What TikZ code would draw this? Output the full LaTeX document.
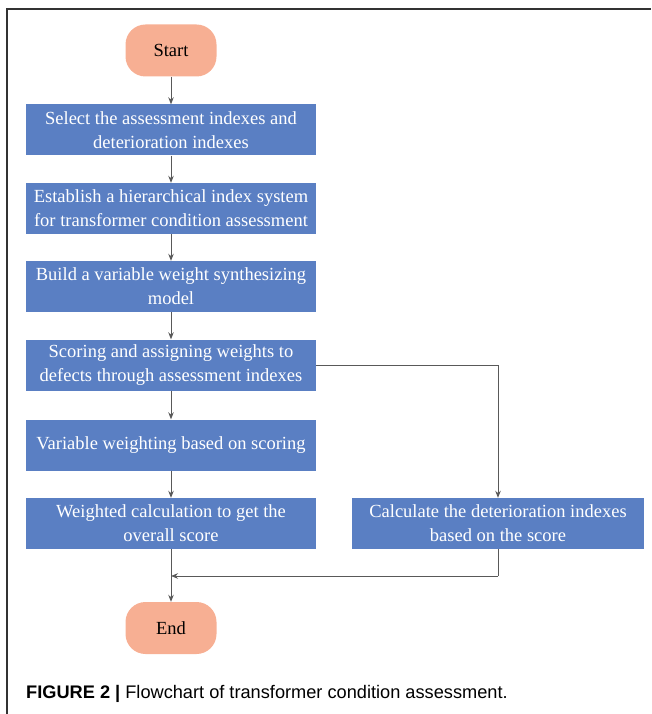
\documentclass[tikz,border=0pt]{standalone}
\usepackage{fontspec}
\setmainfont{Liberation Serif}
\newfontfamily\capfont{Liberation Sans}
\usetikzlibrary{arrows.meta}
\definecolor{boxblue}{HTML}{5A7FC3}
\definecolor{termcol}{HTML}{F7AF93}
\definecolor{linegray}{HTML}{595959}
\begin{document}
\begin{tikzpicture}[x=1pt,y=-1pt,
  stepbox/.style={fill=boxblue,draw=none,text=white,minimum width=290pt,minimum height=51pt,
    align=center,inner sep=2pt,font=\fontsize{18.5}{24}\selectfont},
  term/.style={fill=termcol,draw=none,rounded corners=20pt,minimum width=91pt,minimum height=52pt,
    font=\fontsize{18.5}{20}\selectfont},
  conn/.style={draw=linegray,line width=0.9pt,-{Stealth[length=7pt,width=5.5pt]}},
  line/.style={draw=linegray,line width=0.9pt}]
\useasboundingbox (0,0) rectangle (651,714);
\draw[line width=1.2pt,draw=black!80] (7,714) -- (7,9) -- (651,9);
\node[term] (start) at (171,50.5) {Start};
\node[stepbox] (b1) at (171,130) {Select the assessment indexes and\\deterioration indexes};
\node[stepbox] (b2) at (171,208.5) {Establish a hierarchical index system\\for transformer condition assessment};
\node[stepbox] (b3) at (171,286.5) {Build a variable weight synthesizing\\model};
\node[stepbox] (b4) at (171,365) {Scoring and assigning weights to\\defects through assessment indexes};
\node[stepbox] (b5) at (171,445) {Variable weighting based on scoring};
\node[stepbox] (b6) at (171,523.5) {Weighted calculation to get the\\overall score};
\node[stepbox,minimum width=292pt] (b7) at (498,523.5) {Calculate the deterioration indexes\\based on the score};
\node[term] (end) at (171,628) {End};
\coordinate (m) at (171,576);
\coordinate (r) at (498,576);
\path[conn] (start) -- (b1);
\path[conn] (b1) -- (b2);
\path[conn] (b2) -- (b3);
\path[conn] (b3) -- (b4);
\path[conn] (b4) -- (b5);
\path[conn] (b5) -- (b6);
\path[conn] (b6) -- (end);
\path[conn] (b4.east) -| (b7.north);
\path[line] (b7.south) -- (r);
\path[conn] (r) -- (m);
\node[anchor=west,inner sep=0pt,font=\capfont\fontsize{18.2}{22}\selectfont] (cap) at (26,694)
  {\textbf{FIGURE 2 |} Flowchart of transformer condition assessment.};
\end{tikzpicture}
\end{document}
